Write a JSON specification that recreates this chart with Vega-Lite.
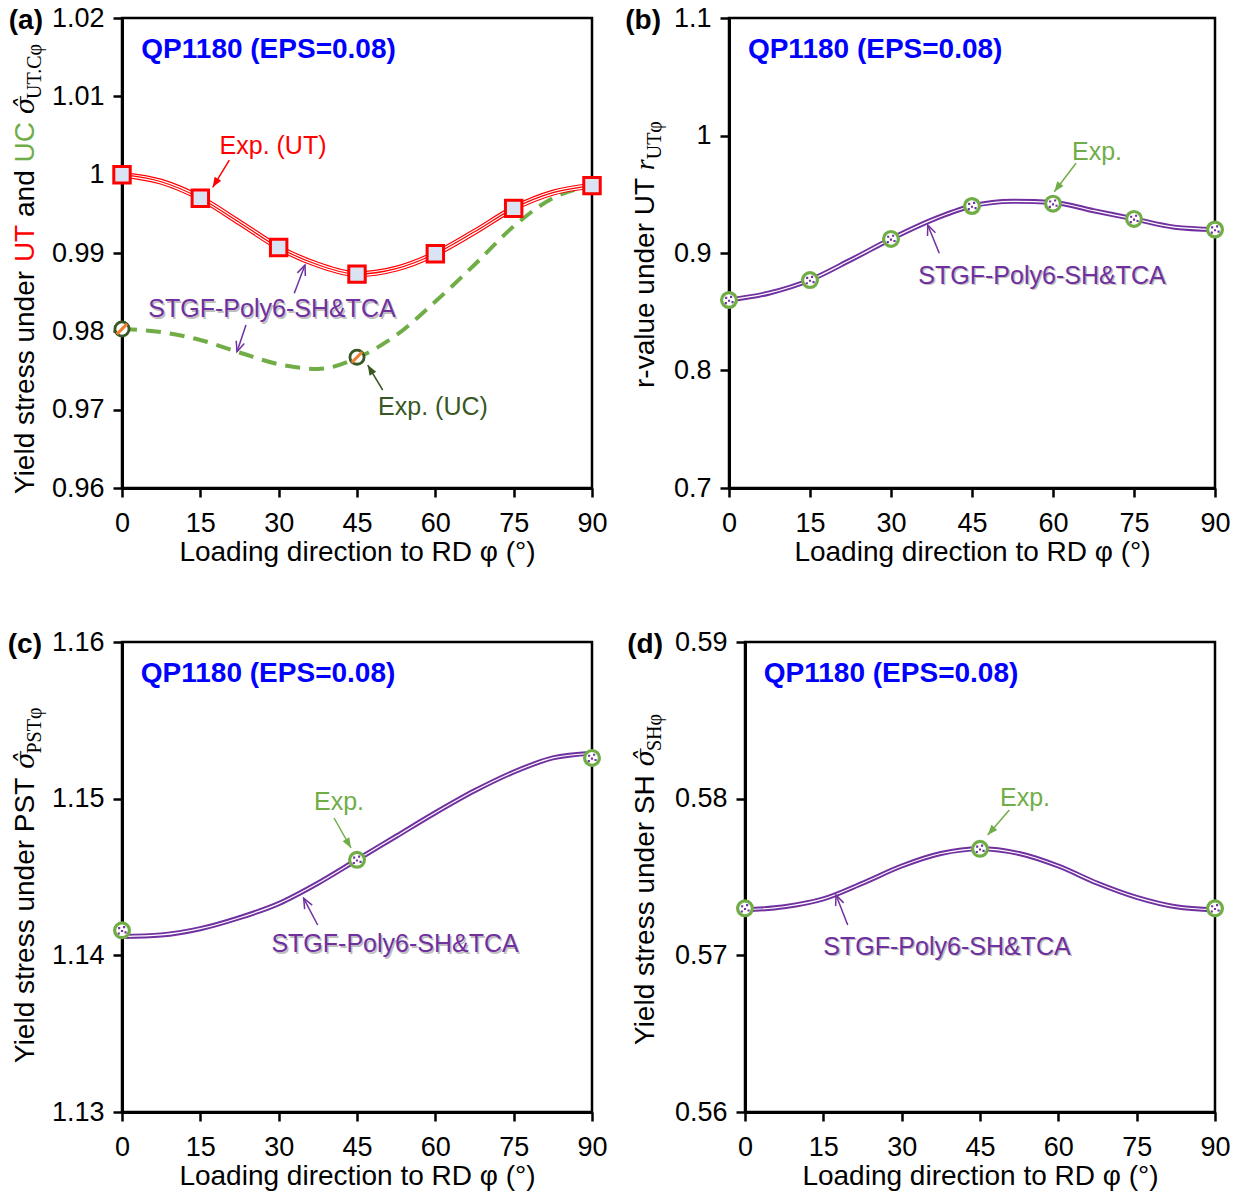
{
  "$schema": "https://vega.github.io/schema/vega-lite/v6.json",
  "background": "white",
  "padding": {"left": 6, "top": 2, "right": 5, "bottom": 5},
  "autosize": {"type": "pad"},
  "bounds": "flush",
  "spacing": 624,
  "resolve": {"scale": {"color": "independent"}},
  "config": {
    "font": "Liberation Sans",
    "view": {"stroke": "black", "strokeWidth": 2.5},
    "axis": {
      "domainColor": "black", "domainWidth": 3, "tickColor": "black", "tickWidth": 2.5, "tickSize": 9,
      "labelFont": "Liberation Sans", "labelFontSize": 27, "labelColor": "black", "labelFlush": false, "labelOverlap": false,
      "titleFont": "Liberation Sans", "titleFontSize": 28, "titleFontWeight": "normal", "titleColor": "black", "grid": false
    },
    "axisX": {"labelPadding": 13, "titlePadding": 2},
    "axisY": {"labelPadding": 9}
  },
  "datasets": {
    "a_ut_exp": [
      {"phi": 0, "v": 1.0000}, {"phi": 15, "v": 0.9970}, {"phi": 30, "v": 0.9907}, {"phi": 45, "v": 0.9873},
      {"phi": 60, "v": 0.9899}, {"phi": 75, "v": 0.9957}, {"phi": 90, "v": 0.9986}
    ],
    "a_ut_fit": [
      {"phi": 0, "v": 1.0000}, {"phi": 7.5, "v": 0.9991}, {"phi": 15, "v": 0.9970}, {"phi": 22.5, "v": 0.9939},
      {"phi": 30, "v": 0.9907}, {"phi": 37.5, "v": 0.9885}, {"phi": 45, "v": 0.9873}, {"phi": 52.5, "v": 0.9880},
      {"phi": 60, "v": 0.9899}, {"phi": 67.5, "v": 0.9927}, {"phi": 75, "v": 0.9957}, {"phi": 82.5, "v": 0.9977},
      {"phi": 90, "v": 0.9986}
    ],
    "a_uc_exp": [{"phi": 0, "v": 0.9803}, {"phi": 45, "v": 0.9767}],
    "a_uc_fit": [
      {"phi": 0, "v": 0.9803}, {"phi": 7.5, "v": 0.9799}, {"phi": 15, "v": 0.9789}, {"phi": 22.5, "v": 0.9773},
      {"phi": 30, "v": 0.9758}, {"phi": 37.5, "v": 0.9752}, {"phi": 45, "v": 0.9766}, {"phi": 52.5, "v": 0.9795},
      {"phi": 60, "v": 0.9838}, {"phi": 67.5, "v": 0.9885}, {"phi": 75, "v": 0.9934}, {"phi": 82.5, "v": 0.9970},
      {"phi": 90, "v": 0.9986}
    ],
    "a_arrows": [
      {"series": "Exp. (UT)", "phi": 17.37, "v": 0.99839, "phi2": 20.55, "v2": 1.00187, "heading": 211},
      {"series": "STGF", "phi": 35.04, "v": 0.98847, "phi2": 32.99, "v2": 0.98486, "heading": 21},
      {"series": "STGF", "phi": 22.02, "v": 0.97740, "phi2": 23.74, "v2": 0.98081, "heading": 199},
      {"series": "Exp. (UC)", "phi": 47.05, "v": 0.97570, "phi2": 49.92, "v2": 0.97251, "heading": 329}
    ],
    "a_notes": [
      {"series": "Exp. (UT)", "phi": 28.92, "v": 1.00366, "text": "Exp. (UT)"},
      {"series": "STGF", "phi": 28.72, "v": 0.98285, "text": "STGF-Poly6-SH&TCA"},
      {"series": "Exp. (UC)", "phi": 59.55, "v": 0.97034, "text": "Exp. (UC)"}
    ],
    "b_exp": [
      {"phi": 0, "v": 0.860}, {"phi": 15, "v": 0.877}, {"phi": 30, "v": 0.912}, {"phi": 45, "v": 0.940},
      {"phi": 60, "v": 0.942}, {"phi": 75, "v": 0.929}, {"phi": 90, "v": 0.920}
    ],
    "b_fit": [
      {"phi": 0, "v": 0.860}, {"phi": 7.5, "v": 0.866}, {"phi": 15, "v": 0.877}, {"phi": 22.5, "v": 0.894},
      {"phi": 30, "v": 0.912}, {"phi": 37.5, "v": 0.928}, {"phi": 45, "v": 0.940}, {"phi": 52.5, "v": 0.944},
      {"phi": 60, "v": 0.943}, {"phi": 67.5, "v": 0.936}, {"phi": 75, "v": 0.929}, {"phi": 82.5, "v": 0.922},
      {"phi": 90, "v": 0.920}
    ],
    "b_arrows": [
      {"series": "Exp.", "phi": 60.24, "v": 0.95217, "phi2": 64.26, "v2": 0.97634, "heading": 217},
      {"series": "STGF", "phi": 36.80, "v": 0.92383, "phi2": 38.94, "v2": 0.899745, "heading": 338}
    ],
    "b_notes": [
      {"series": "Exp.", "phi": 68.15, "v": 0.985957, "text": "Exp."},
      {"series": "STGF", "phi": 57.96, "v": 0.880426, "text": "STGF-Poly6-SH&TCA"}
    ],
    "c_exp": [{"phi": 0, "v": 1.1416}, {"phi": 45, "v": 1.1461}, {"phi": 90, "v": 1.1526}],
    "c_fit": [
      {"phi": 0, "v": 1.1412}, {"phi": 7.5, "v": 1.1413}, {"phi": 15, "v": 1.1417}, {"phi": 22.5, "v": 1.1424},
      {"phi": 30, "v": 1.1433}, {"phi": 37.5, "v": 1.1446}, {"phi": 45, "v": 1.1461}, {"phi": 52.5, "v": 1.1476},
      {"phi": 60, "v": 1.1491}, {"phi": 67.5, "v": 1.1505}, {"phi": 75, "v": 1.1517}, {"phi": 82.5, "v": 1.1526},
      {"phi": 90, "v": 1.1529}
    ],
    "c_arrows": [
      {"series": "Exp.", "phi": 43.85, "v": 1.146851, "phi2": 40.60, "v2": 1.148766, "heading": 150},
      {"series": "STGF", "phi": 34.79, "v": 1.143641, "phi2": 37.47, "v2": 1.141936, "heading": 332}
    ],
    "c_notes": [
      {"series": "Exp.", "phi": 41.55, "v": 1.149787, "text": "Exp."},
      {"series": "STGF", "phi": 52.28, "v": 1.140723, "text": "STGF-Poly6-SH&TCA"}
    ],
    "d_exp": [{"phi": 0, "v": 0.5730}, {"phi": 45, "v": 0.5768}, {"phi": 90, "v": 0.5730}],
    "d_fit": [
      {"phi": 0, "v": 0.5729}, {"phi": 7.5, "v": 0.5731}, {"phi": 15, "v": 0.5736}, {"phi": 22.5, "v": 0.5746},
      {"phi": 30, "v": 0.5757}, {"phi": 37.5, "v": 0.5765}, {"phi": 45, "v": 0.5768}, {"phi": 52.5, "v": 0.5765},
      {"phi": 60, "v": 0.5757}, {"phi": 67.5, "v": 0.5746}, {"phi": 75, "v": 0.5737}, {"phi": 82.5, "v": 0.5731},
      {"phi": 90, "v": 0.5729}
    ],
    "d_arrows": [
      {"series": "Exp.", "phi": 46.48, "v": 0.577681, "phi2": 50.61, "v2": 0.579277, "heading": 221},
      {"series": "STGF", "phi": 17.43, "v": 0.573851, "phi2": 19.67, "v2": 0.571936, "heading": 339}
    ],
    "d_notes": [
      {"series": "Exp.", "phi": 53.62, "v": 0.580043, "text": "Exp."},
      {"series": "STGF", "phi": 38.68, "v": 0.570532, "text": "STGF-Poly6-SH&TCA"}
    ]
  },
  "vconcat": [
    {
      "spacing": 137,
      "bounds": "flush",
      "resolve": {"scale": {"color": "independent"}},
      "hconcat": [
        {
          "width": 470, "height": 470,
          "resolve": {"scale": {"color": "independent"}},
          "encoding": {
            "x": {"field": "phi", "type": "quantitative", "scale": {"domain": [0, 90], "nice": false, "zero": false},
                  "axis": {"values": [0, 15, 30, 45, 60, 75, 90], "title": "Loading direction to RD φ (°)"}},
            "y": {"field": "v", "type": "quantitative", "scale": {"domain": [0.96, 1.02], "nice": false, "zero": false},
                  "axis": {"values": [0.96, 0.97, 0.98, 0.99, 1, 1.01, 1.02], "format": "~g", "title": null}}
          },
          "layer": [
            {"data": {"name": "a_uc_fit"}, "mark": {"type": "line", "color": "#70AD47", "strokeWidth": 4, "strokeDash": [15, 9], "interpolate": "monotone"}},
            {"data": {"name": "a_ut_fit"}, "mark": {"type": "line", "color": "#FF0000", "strokeWidth": 6, "interpolate": "monotone"}},
            {"data": {"name": "a_ut_fit"}, "mark": {"type": "line", "color": "#FFFFFF", "strokeWidth": 3.6, "interpolate": "monotone"}},
            {"data": {"name": "a_ut_fit"}, "mark": {"type": "line", "color": "#FF0000", "strokeWidth": 1.2, "interpolate": "monotone"}},
            {"data": {"name": "a_ut_exp"}, "mark": {"type": "point", "shape": "square", "size": 270, "filled": true, "fill": "#DAE3F3", "stroke": "#FF0000", "strokeWidth": 3, "opacity": 1}},
            {"data": {"name": "a_uc_exp"}, "mark": {"type": "point", "shape": "circle", "size": 200, "filled": true, "fill": "#FFFFFF", "stroke": "#385723", "strokeWidth": 2.8, "opacity": 1}},
            {"data": {"name": "a_uc_exp"}, "mark": {"type": "point", "shape": "M-0.75,0.75L0.75,-0.75", "size": 190, "filled": false, "stroke": "#ED7D31", "strokeWidth": 3, "opacity": 1}},
            {"data": {"name": "a_arrows"}, "mark": {"type": "rule", "strokeWidth": 1.5},
             "encoding": {"x2": {"field": "phi2"}, "y2": {"field": "v2"},
                          "color": {"field": "series", "type": "nominal", "scale": {"domain": ["Exp. (UT)", "STGF", "Exp. (UC)"], "range": ["#FF0000", "#7030A0", "#385723"]}, "legend": null}}},
            {"data": {"name": "a_arrows"}, "transform": [{"filter": "datum.series !== 'STGF'"}],
             "mark": {"type": "point", "shape": "M0,0L-0.5,1.3L0.5,1.3Z", "size": 240, "filled": true, "strokeWidth": 0, "opacity": 1},
             "encoding": {"angle": {"field": "heading", "type": "quantitative", "scale": null},
                          "color": {"field": "series", "type": "nominal", "scale": {"domain": ["Exp. (UT)", "STGF", "Exp. (UC)"], "range": ["#FF0000", "#7030A0", "#385723"]}, "legend": null}}},
            {"data": {"name": "a_arrows"}, "transform": [{"filter": "datum.series === 'STGF'"}],
             "mark": {"type": "point", "shape": "M-0.55,1.3L0,0L0.55,1.3", "size": 240, "filled": false, "strokeWidth": 1.5, "opacity": 1, "color": "#7030A0"},
             "encoding": {"angle": {"field": "heading", "type": "quantitative", "scale": null}}},
            {"data": {"name": "a_notes"}, "transform": [{"filter": "datum.series === 'STGF'"}],
             "mark": {"type": "text", "fontSize": 25, "align": "center", "baseline": "middle", "dx": 1.5, "dy": 1.5, "color": "#BFBFBF"},
             "encoding": {"text": {"field": "text"}}},
            {"data": {"name": "a_notes"},
             "mark": {"type": "text", "fontSize": 25, "align": "center", "baseline": "middle"},
             "encoding": {"text": {"field": "text"},
                          "color": {"field": "series", "type": "nominal", "scale": {"domain": ["Exp. (UT)", "STGF", "Exp. (UC)"], "range": ["#FF0000", "#7030A0", "#385723"]}, "legend": null}}},
            {"data": {"values": [{"phi": 3.7, "v": 1.015915, "text": "QP1180 (EPS=0.08)"}]},
             "mark": {"type": "text", "fontSize": 28, "fontWeight": "bold", "align": "left", "baseline": "middle", "color": "#0000FF"},
             "encoding": {"text": {"field": "text"}}},
            {"data": {"values": [{"phi": -15.13, "v": 1.019617, "text": "(a)"}]},
             "mark": {"type": "text", "fontSize": 28, "fontWeight": "bold", "align": "right", "baseline": "middle", "color": "black"},
             "encoding": {"text": {"field": "text"}}},
            {"data": {"values": [
               {"part": "plain", "phi": -16.85, "v": 0.959234, "text": "Yield stress under"},
               {"part": "UT", "phi": -16.85, "v": 0.988838, "text": "UT"},
               {"part": "plain", "phi": -16.85, "v": 0.994596, "text": "and"},
               {"part": "UC", "phi": -16.85, "v": 1.001553, "text": "UC"}
             ]},
             "mark": {"type": "text", "fontSize": 28, "angle": 270, "align": "left", "baseline": "alphabetic"},
             "encoding": {"text": {"field": "text"},
                          "color": {"field": "part", "type": "nominal", "scale": {"domain": ["plain", "UT", "UC"], "range": ["#000000", "#FF0000", "#70AD47"]}, "legend": null}}},
            {"data": {"values": [{"phi": -16.85, "v": 1.007707, "text": "σ̂"}]},
             "mark": {"type": "text", "font": "DejaVu Serif", "fontStyle": "italic", "fontSize": 26, "angle": 270, "align": "left", "baseline": "alphabetic", "color": "black"},
             "encoding": {"text": {"field": "text"}}},
            {"data": {"values": [{"phi": -15.51, "v": 1.009673, "text": "UT.Cφ"}]},
             "mark": {"type": "text", "font": "Liberation Serif", "fontSize": 20, "angle": 270, "align": "left", "baseline": "alphabetic", "color": "black"},
             "encoding": {"text": {"field": "text"}}}
          ]
        },
        {
          "width": 486, "height": 470,
          "resolve": {"scale": {"color": "independent"}},
          "encoding": {
            "x": {"field": "phi", "type": "quantitative", "scale": {"domain": [0, 90], "nice": false, "zero": false},
                  "axis": {"values": [0, 15, 30, 45, 60, 75, 90], "title": "Loading direction to RD φ (°)"}},
            "y": {"field": "v", "type": "quantitative", "scale": {"domain": [0.7, 1.1], "nice": false, "zero": false},
                  "axis": {"values": [0.7, 0.8, 0.9, 1, 1.1], "format": "~g", "title": null}}
          },
          "layer": [
            {"data": {"name": "b_fit"}, "mark": {"type": "line", "color": "#7030A0", "strokeWidth": 5, "interpolate": "monotone"}},
            {"data": {"name": "b_fit"}, "mark": {"type": "line", "color": "#FFFFFF", "strokeWidth": 1.2, "interpolate": "monotone"}},
            {"data": {"name": "b_exp"}, "mark": {"type": "point", "shape": "circle", "size": 220, "filled": true, "fill": "#FFFFFF", "stroke": "#70AD47", "strokeWidth": 3.2, "opacity": 1}},
            {"data": {"name": "b_exp"}, "mark": {"type": "point", "shape": "M-0.55,-0.45h0.3v0.3h-0.3z M0.15,-0.6h0.3v0.3h-0.3z M-0.15,-0.05h0.3v0.3h-0.3z M0.35,0.15h0.3v0.3h-0.3z M-0.6,0.3h0.3v0.3h-0.3z", "size": 200, "filled": true, "color": "#7030A0", "strokeWidth": 0, "opacity": 1}},
            {"data": {"name": "b_arrows"}, "mark": {"type": "rule", "strokeWidth": 1.5},
             "encoding": {"x2": {"field": "phi2"}, "y2": {"field": "v2"},
                          "color": {"field": "series", "type": "nominal", "scale": {"domain": ["Exp.", "STGF"], "range": ["#70AD47", "#7030A0"]}, "legend": null}}},
            {"data": {"name": "b_arrows"}, "transform": [{"filter": "datum.series === 'Exp.'"}],
             "mark": {"type": "point", "shape": "M0,0L-0.5,1.3L0.5,1.3Z", "size": 240, "filled": true, "strokeWidth": 0, "opacity": 1, "color": "#70AD47"},
             "encoding": {"angle": {"field": "heading", "type": "quantitative", "scale": null}}},
            {"data": {"name": "b_arrows"}, "transform": [{"filter": "datum.series === 'STGF'"}],
             "mark": {"type": "point", "shape": "M-0.55,1.3L0,0L0.55,1.3", "size": 240, "filled": false, "strokeWidth": 1.5, "opacity": 1, "color": "#7030A0"},
             "encoding": {"angle": {"field": "heading", "type": "quantitative", "scale": null}}},
            {"data": {"name": "b_notes"}, "transform": [{"filter": "datum.series === 'STGF'"}],
             "mark": {"type": "text", "fontSize": 25, "align": "center", "baseline": "middle", "dx": 1.5, "dy": 1.5, "color": "#BFBFBF"},
             "encoding": {"text": {"field": "text"}}},
            {"data": {"name": "b_notes"},
             "mark": {"type": "text", "fontSize": 25, "align": "center", "baseline": "middle"},
             "encoding": {"text": {"field": "text"},
                          "color": {"field": "series", "type": "nominal", "scale": {"domain": ["Exp.", "STGF"], "range": ["#70AD47", "#7030A0"]}, "legend": null}}},
            {"data": {"values": [{"phi": 3.5, "v": 1.072766, "text": "QP1180 (EPS=0.08)"}]},
             "mark": {"type": "text", "fontSize": 28, "fontWeight": "bold", "align": "left", "baseline": "middle", "color": "#0000FF"},
             "encoding": {"text": {"field": "text"}}},
            {"data": {"values": [{"phi": -12.59, "v": 1.097447, "text": "(b)"}]},
             "mark": {"type": "text", "fontSize": 28, "fontWeight": "bold", "align": "right", "baseline": "middle", "color": "black"},
             "encoding": {"text": {"field": "text"}}},
            {"data": {"values": [{"phi": -13.89, "v": 0.785106, "text": "r-value under UT"}]},
             "mark": {"type": "text", "fontSize": 28, "angle": 270, "align": "left", "baseline": "alphabetic", "color": "black"},
             "encoding": {"text": {"field": "text"}}},
            {"data": {"values": [{"phi": -13.89, "v": 0.970468, "text": "r"}]},
             "mark": {"type": "text", "font": "Liberation Serif", "fontStyle": "italic", "fontSize": 28, "angle": 270, "align": "left", "baseline": "alphabetic", "color": "black"},
             "encoding": {"text": {"field": "text"}}},
            {"data": {"values": [{"phi": -12.59, "v": 0.979745, "text": "UTφ"}]},
             "mark": {"type": "text", "font": "Liberation Serif", "fontSize": 20, "angle": 270, "align": "left", "baseline": "alphabetic", "color": "black"},
             "encoding": {"text": {"field": "text"}}}
          ]
        }
      ]
    },
    {
      "spacing": 153,
      "bounds": "flush",
      "resolve": {"scale": {"color": "independent"}},
      "hconcat": [
        {
          "width": 470, "height": 470,
          "resolve": {"scale": {"color": "independent"}},
          "encoding": {
            "x": {"field": "phi", "type": "quantitative", "scale": {"domain": [0, 90], "nice": false, "zero": false},
                  "axis": {"values": [0, 15, 30, 45, 60, 75, 90], "title": "Loading direction to RD φ (°)"}},
            "y": {"field": "v", "type": "quantitative", "scale": {"domain": [1.13, 1.16], "nice": false, "zero": false},
                  "axis": {"values": [1.13, 1.14, 1.15, 1.16], "format": "~g", "title": null}}
          },
          "layer": [
            {"data": {"name": "c_fit"}, "mark": {"type": "line", "color": "#7030A0", "strokeWidth": 5, "interpolate": "monotone"}},
            {"data": {"name": "c_fit"}, "mark": {"type": "line", "color": "#FFFFFF", "strokeWidth": 1.2, "interpolate": "monotone"}},
            {"data": {"name": "c_exp"}, "mark": {"type": "point", "shape": "circle", "size": 220, "filled": true, "fill": "#FFFFFF", "stroke": "#70AD47", "strokeWidth": 3.2, "opacity": 1}},
            {"data": {"name": "c_exp"}, "mark": {"type": "point", "shape": "M-0.55,-0.45h0.3v0.3h-0.3z M0.15,-0.6h0.3v0.3h-0.3z M-0.15,-0.05h0.3v0.3h-0.3z M0.35,0.15h0.3v0.3h-0.3z M-0.6,0.3h0.3v0.3h-0.3z", "size": 200, "filled": true, "color": "#7030A0", "strokeWidth": 0, "opacity": 1}},
            {"data": {"name": "c_arrows"}, "mark": {"type": "rule", "strokeWidth": 1.5},
             "encoding": {"x2": {"field": "phi2"}, "y2": {"field": "v2"},
                          "color": {"field": "series", "type": "nominal", "scale": {"domain": ["Exp.", "STGF"], "range": ["#70AD47", "#7030A0"]}, "legend": null}}},
            {"data": {"name": "c_arrows"}, "transform": [{"filter": "datum.series === 'Exp.'"}],
             "mark": {"type": "point", "shape": "M0,0L-0.5,1.3L0.5,1.3Z", "size": 240, "filled": true, "strokeWidth": 0, "opacity": 1, "color": "#70AD47"},
             "encoding": {"angle": {"field": "heading", "type": "quantitative", "scale": null}}},
            {"data": {"name": "c_arrows"}, "transform": [{"filter": "datum.series === 'STGF'"}],
             "mark": {"type": "point", "shape": "M-0.55,1.3L0,0L0.55,1.3", "size": 240, "filled": false, "strokeWidth": 1.5, "opacity": 1, "color": "#7030A0"},
             "encoding": {"angle": {"field": "heading", "type": "quantitative", "scale": null}}},
            {"data": {"name": "c_notes"}, "transform": [{"filter": "datum.series === 'STGF'"}],
             "mark": {"type": "text", "fontSize": 25, "align": "center", "baseline": "middle", "dx": 1.5, "dy": 1.5, "color": "#BFBFBF"},
             "encoding": {"text": {"field": "text"}}},
            {"data": {"name": "c_notes"},
             "mark": {"type": "text", "fontSize": 25, "align": "center", "baseline": "middle"},
             "encoding": {"text": {"field": "text"},
                          "color": {"field": "series", "type": "nominal", "scale": {"domain": ["Exp.", "STGF"], "range": ["#70AD47", "#7030A0"]}, "legend": null}}},
            {"data": {"values": [{"phi": 3.6, "v": 1.157957, "text": "QP1180 (EPS=0.08)"}]},
             "mark": {"type": "text", "fontSize": 28, "fontWeight": "bold", "align": "left", "baseline": "middle", "color": "#0000FF"},
             "encoding": {"text": {"field": "text"}}},
            {"data": {"values": [{"phi": -15.32, "v": 1.159809, "text": "(c)"}]},
             "mark": {"type": "text", "fontSize": 28, "fontWeight": "bold", "align": "right", "baseline": "middle", "color": "black"},
             "encoding": {"text": {"field": "text"}}},
            {"data": {"values": [{"phi": -16.85, "v": 1.133128, "text": "Yield stress under PST"}]},
             "mark": {"type": "text", "fontSize": 28, "angle": 270, "align": "left", "baseline": "alphabetic", "color": "black"},
             "encoding": {"text": {"field": "text"}}},
            {"data": {"values": [{"phi": -16.85, "v": 1.1519, "text": "σ̂"}]},
             "mark": {"type": "text", "font": "DejaVu Serif", "fontStyle": "italic", "fontSize": 26, "angle": 270, "align": "left", "baseline": "alphabetic", "color": "black"},
             "encoding": {"text": {"field": "text"}}},
            {"data": {"values": [{"phi": -15.51, "v": 1.152883, "text": "PSTφ"}]},
             "mark": {"type": "text", "font": "Liberation Serif", "fontSize": 20, "angle": 270, "align": "left", "baseline": "alphabetic", "color": "black"},
             "encoding": {"text": {"field": "text"}}}
          ]
        },
        {
          "width": 470, "height": 470,
          "resolve": {"scale": {"color": "independent"}},
          "encoding": {
            "x": {"field": "phi", "type": "quantitative", "scale": {"domain": [0, 90], "nice": false, "zero": false},
                  "axis": {"values": [0, 15, 30, 45, 60, 75, 90], "title": "Loading direction to RD φ (°)"}},
            "y": {"field": "v", "type": "quantitative", "scale": {"domain": [0.56, 0.59], "nice": false, "zero": false},
                  "axis": {"values": [0.56, 0.57, 0.58, 0.59], "format": "~g", "title": null}}
          },
          "layer": [
            {"data": {"name": "d_fit"}, "mark": {"type": "line", "color": "#7030A0", "strokeWidth": 5, "interpolate": "monotone"}},
            {"data": {"name": "d_fit"}, "mark": {"type": "line", "color": "#FFFFFF", "strokeWidth": 1.2, "interpolate": "monotone"}},
            {"data": {"name": "d_exp"}, "mark": {"type": "point", "shape": "circle", "size": 220, "filled": true, "fill": "#FFFFFF", "stroke": "#70AD47", "strokeWidth": 3.2, "opacity": 1}},
            {"data": {"name": "d_exp"}, "mark": {"type": "point", "shape": "M-0.55,-0.45h0.3v0.3h-0.3z M0.15,-0.6h0.3v0.3h-0.3z M-0.15,-0.05h0.3v0.3h-0.3z M0.35,0.15h0.3v0.3h-0.3z M-0.6,0.3h0.3v0.3h-0.3z", "size": 200, "filled": true, "color": "#7030A0", "strokeWidth": 0, "opacity": 1}},
            {"data": {"name": "d_arrows"}, "mark": {"type": "rule", "strokeWidth": 1.5},
             "encoding": {"x2": {"field": "phi2"}, "y2": {"field": "v2"},
                          "color": {"field": "series", "type": "nominal", "scale": {"domain": ["Exp.", "STGF"], "range": ["#70AD47", "#7030A0"]}, "legend": null}}},
            {"data": {"name": "d_arrows"}, "transform": [{"filter": "datum.series === 'Exp.'"}],
             "mark": {"type": "point", "shape": "M0,0L-0.5,1.3L0.5,1.3Z", "size": 240, "filled": true, "strokeWidth": 0, "opacity": 1, "color": "#70AD47"},
             "encoding": {"angle": {"field": "heading", "type": "quantitative", "scale": null}}},
            {"data": {"name": "d_arrows"}, "transform": [{"filter": "datum.series === 'STGF'"}],
             "mark": {"type": "point", "shape": "M-0.55,1.3L0,0L0.55,1.3", "size": 240, "filled": false, "strokeWidth": 1.5, "opacity": 1, "color": "#7030A0"},
             "encoding": {"angle": {"field": "heading", "type": "quantitative", "scale": null}}},
            {"data": {"name": "d_notes"}, "transform": [{"filter": "datum.series === 'STGF'"}],
             "mark": {"type": "text", "fontSize": 25, "align": "center", "baseline": "middle", "dx": 1.5, "dy": 1.5, "color": "#BFBFBF"},
             "encoding": {"text": {"field": "text"}}},
            {"data": {"name": "d_notes"},
             "mark": {"type": "text", "fontSize": 25, "align": "center", "baseline": "middle"},
             "encoding": {"text": {"field": "text"},
                          "color": {"field": "series", "type": "nominal", "scale": {"domain": ["Exp.", "STGF"], "range": ["#70AD47", "#7030A0"]}, "legend": null}}},
            {"data": {"values": [{"phi": 3.6, "v": 0.587957, "text": "QP1180 (EPS=0.08)"}]},
             "mark": {"type": "text", "fontSize": 28, "fontWeight": "bold", "align": "left", "baseline": "middle", "color": "#0000FF"},
             "encoding": {"text": {"field": "text"}}},
            {"data": {"values": [{"phi": -15.70, "v": 0.589809, "text": "(d)"}]},
             "mark": {"type": "text", "fontSize": 28, "fontWeight": "bold", "align": "right", "baseline": "middle", "color": "black"},
             "encoding": {"text": {"field": "text"}}},
            {"data": {"values": [{"phi": -17.43, "v": 0.564277, "text": "Yield stress under SH"}]},
             "mark": {"type": "text", "fontSize": 28, "angle": 270, "align": "left", "baseline": "alphabetic", "color": "black"},
             "encoding": {"text": {"field": "text"}}},
            {"data": {"values": [{"phi": -17.43, "v": 0.582053, "text": "σ̂"}]},
             "mark": {"type": "text", "font": "DejaVu Serif", "fontStyle": "italic", "fontSize": 26, "angle": 270, "align": "left", "baseline": "alphabetic", "color": "black"},
             "encoding": {"text": {"field": "text"}}},
            {"data": {"values": [{"phi": -16.09, "v": 0.583036, "text": "SHφ"}]},
             "mark": {"type": "text", "font": "Liberation Serif", "fontSize": 20, "angle": 270, "align": "left", "baseline": "alphabetic", "color": "black"},
             "encoding": {"text": {"field": "text"}}}
          ]
        }
      ]
    }
  ]
}
